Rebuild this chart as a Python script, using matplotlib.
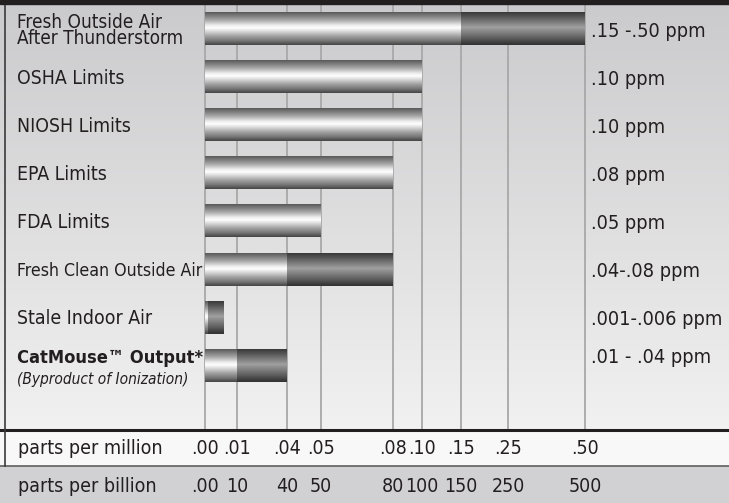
import numpy as np
import matplotlib
matplotlib.use('Agg')
import matplotlib.pyplot as plt
from matplotlib import font_manager
from matplotlib.colors import LinearSegmentedColormap
from matplotlib.patches import Rectangle
from matplotlib.lines import Line2D
import matplotlib.transforms as mtransforms

# data
categories = ['Fresh Outside Air\nAfter Thunderstorm', 'OSHA Limits', 'NIOSH Limits',
              'EPA Limits', 'FDA Limits', 'Fresh Clean Outside Air',
              'Stale Indoor Air', 'CatMouse\u2122 Output*']
light_end = [0.15, 0.10, 0.10, 0.08, 0.05, 0.04, 0.001, 0.01]
dark_end = [0.50, None, None, None, None, 0.08, 0.006, 0.04]
value_labels = ['.15 -.50 ppm', '.10 ppm', '.10 ppm', '.08 ppm', '.05 ppm',
                '.04-.08 ppm', '.001-.006 ppm', '.01 - .04 ppm']

ticks = [0.0, 0.01, 0.04, 0.05, 0.08, 0.10, 0.15, 0.25, 0.50]
ppm_labels = ['.00', '.01', '.04', '.05', '.08', '.10', '.15', '.25', '.50']
ppb_labels = ['.00', '10', '40', '50', '80', '100', '150', '250', '500']

# spacing of the (non-linear) printed scale
tick_pix = [205, 237, 287, 321, 393, 422, 461, 508, 585]

W, H = 729, 503

# pick a narrow font if there is one, else plain Liberation Sans a bit smaller
ttf = font_manager.fontManager.ttflist
names = set(f.name for f in ttf)
stretch = 'normal'
if 'Liberation Sans Narrow' in names:
    fam, scale = 'Liberation Sans Narrow', 1.0
elif any(f.name == 'DejaVu Sans' and f.stretch == 'condensed' for f in ttf):
    fam, scale, stretch = 'DejaVu Sans', 0.85, 'condensed'
elif 'Roboto Condensed' in names:
    fam, scale = 'Roboto Condensed', 0.95
else:
    fam, scale = 'Liberation Sans', 0.84
plt.rcParams['font.family'] = [fam, 'DejaVu Sans']
plt.rcParams['font.stretch'] = stretch
FS = 14.5 * scale
INK = '#231f20'


def fy(py):
    return 1 - py / H


def fx(px):
    return px / W


fig = plt.figure(figsize=(W / 100, H / 100), dpi=100)
fig.patch.set_facecolor('#f0f0f0')

# background gradient of the chart area
bg = fig.add_axes([0, fy(430), 1, (430 - 4) / H])
bg_cmap = LinearSegmentedColormap.from_list('bg', ['#cbcbcd', '#f1f1f1'])
bg.imshow(np.linspace(0, 1, 128).reshape(-1, 1), cmap=bg_cmap, aspect='auto',
          extent=(0, 1, 0, 1))
bg.axis('off')

# main axes with the piecewise scale
ax = fig.add_axes([fx(205), fy(430), (585 - 205) / W, (430 - 4) / H])
ax.patch.set_alpha(0)


def fwd(x):
    return np.interp(x, ticks, tick_pix)


def inv(p):
    return np.interp(p, tick_pix, ticks)


ax.set_xscale('function', functions=(fwd, inv))

light_cmap = LinearSegmentedColormap.from_list('light', [
    (0.0, '#555555'), (0.1, '#747474'), (0.28, '#b0b0b0'), (0.42, '#eeeeee'),
    (0.5, '#ffffff'), (0.58, '#e2e2e2'), (0.75, '#a2a2a2'), (0.9, '#747474'),
    (1.0, '#4a4a4a')])
dark_cmap = LinearSegmentedColormap.from_list('dark', [
    (0.0, '#363636'), (0.15, '#555555'), (0.48, '#a0a0a0'),
    (0.8, '#606060'), (1.0, '#333333')])
grad = np.linspace(0, 1, 64).reshape(-1, 1)

bar_h = 0.69
for i in range(len(categories)):
    ax.imshow(grad, cmap=light_cmap, aspect='auto', interpolation='bilinear',
              extent=(0, light_end[i], i + bar_h / 2, i - bar_h / 2), zorder=3)
    if dark_end[i] is not None:
        ax.imshow(grad, cmap=dark_cmap, aspect='auto', interpolation='bilinear',
                  extent=(light_end[i], dark_end[i], i + bar_h / 2, i - bar_h / 2),
                  zorder=3)

for t in ticks:
    ax.axvline(t, color='#a8a8a8', lw=1.3, zorder=1, clip_on=False)

ax.set_xlim(0, 0.5)
ax.set_ylim(8.35, -0.51)
ax.axis('off')

# row labels and values
trans_y = mtransforms.blended_transform_factory(fig.transFigure, ax.transData)
last = len(categories) - 1
for i, name in enumerate(categories):
    if i == 0:
        fig.text(fx(17), i + 0.04, name, transform=trans_y, fontsize=FS * 1.1,
                 va='center', linespacing=0.82, color=INK)
    elif i == last:
        fig.text(fx(17), i - 0.15, name, transform=trans_y, fontsize=FS * 1.06,
                 fontweight='bold', va='center', color=INK)
        fig.text(fx(17), i + 0.29, '(Byproduct of Ionization)', transform=trans_y,
                 fontsize=FS * 0.9, fontstyle='italic', va='center', color=INK)
    elif i == 5:
        fig.text(fx(17), i + 0.04, name, transform=trans_y, fontsize=FS * 1.03,
                 va='center', color=INK)
    else:
        fig.text(fx(17), i + 0.04, name, transform=trans_y, fontsize=FS * 1.13,
                 va='center', color=INK)
    yv = i - 0.15 if i == last else i + 0.06
    fig.text(fx(591), yv, value_labels[i], transform=trans_y, fontsize=FS * 1.16,
             va='center', color=INK)

# frame pieces
fig.patches.append(Rectangle((0, fy(4)), 1, 4 / H, transform=fig.transFigure,
                             color=INK, zorder=5))
fig.patches.append(Rectangle((0, fy(466)), 1, 36 / H, transform=fig.transFigure,
                             color='#f8f8f8', zorder=0))
fig.patches.append(Rectangle((0, 0), 1, fy(466), transform=fig.transFigure,
                             color='#d1d1d3', zorder=0))
fig.lines.append(Line2D([0, 1], [fy(430), fy(430)], transform=fig.transFigure,
                        color=INK, lw=2.2, zorder=5))
fig.lines.append(Line2D([0, 1], [fy(466), fy(466)], transform=fig.transFigure,
                        color='#606060', lw=1.2, zorder=5))
fig.lines.append(Line2D([fx(4.5), fx(4.5)], [fy(466), fy(4)], transform=fig.transFigure,
                        color='#3a3a3a', lw=1.2, zorder=5))

# bottom scale rows
BS = FS * 1.14
trans_x = mtransforms.blended_transform_factory(ax.transData, fig.transFigure)
fig.text(fx(18), fy(449), 'parts per million', fontsize=BS, va='center',
         color=INK, zorder=6)
fig.text(fx(18), fy(486), 'parts per billion', fontsize=BS, va='center',
         color=INK, zorder=6)
for t, a, b in zip(ticks, ppm_labels, ppb_labels):
    fig.text(t, fy(449), a, transform=trans_x, fontsize=BS, ha='center',
             va='center', color=INK, zorder=6)
    fig.text(t, fy(486), b, transform=trans_x, fontsize=BS, ha='center',
             va='center', color=INK, zorder=6)

fig.savefig('out.png', dpi=100)
